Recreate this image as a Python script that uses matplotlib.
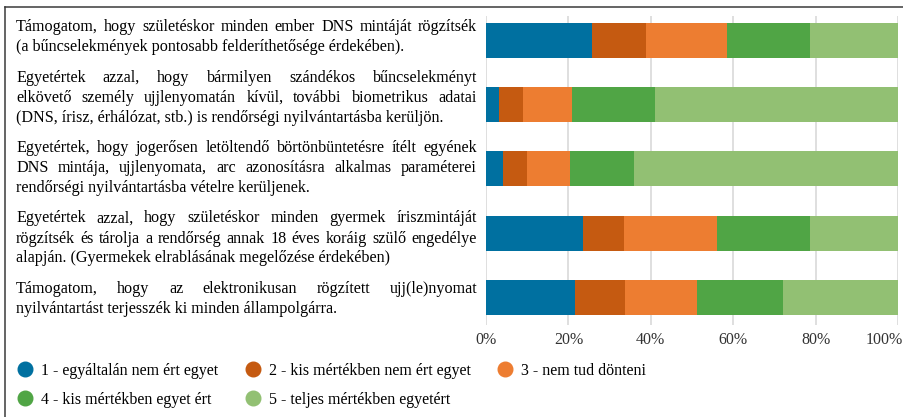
import matplotlib
matplotlib.use('Agg')
import matplotlib.pyplot as plt
from matplotlib.lines import Line2D
from matplotlib.transforms import ScaledTranslation
import numpy as np

# kérdések (sorok ahogy a képen tördelve vannak)
statements = [
    ["Támogatom, hogy születéskor minden ember DNS mintáját rögzítsék",
     "(a bűncselekmények pontosabb felderíthetősége érdekében)."],
    ["Egyetértek azzal, hogy bármilyen szándékos bűncselekményt",
     "elkövető személy ujjlenyomatán kívül, további biometrikus adatai",
     "(DNS, írisz, érhálózat, stb.) is rendőrségi nyilvántartásba kerüljön."],
    ["Egyetértek, hogy jogerősen letöltendő börtönbüntetésre ítélt egyének",
     "DNS mintája, ujjlenyomata, arc azonosításra alkalmas paraméterei",
     "rendőrségi nyilvántartásba vételre kerüljenek."],
    ["Egyetértek azzal, hogy születéskor minden gyermek íriszmintáját",
     "rögzítsék és tárolja a rendőrség annak 18 éves koráig szülő engedélye",
     "alapján. (Gyermekek elrablásának megelőzése érdekében)"],
    ["Támogatom, hogy az elektronikusan rögzített ujj(le)nyomat",
     "nyilvántartást terjesszék ki minden állampolgárra."],
]

answers = ["1 - egyáltalán nem ért egyet", "2 - kis mértékben nem ért egyet",
           "3 - nem tud dönteni", "4 - kis mértékben egyet ért",
           "5 - teljes mértékben egyetért"]

# százalékos megoszlás, kérdésenként (felülről lefelé)
ans1 = [25.7, 3.2, 4.1, 23.5, 21.6]
ans2 = [13.1, 5.8, 5.9, 10.0, 12.1]
ans3 = [19.7, 11.9, 10.4, 22.6, 17.5]
ans4 = [20.1, 20.1, 15.5, 22.5, 20.9]
ans5 = [21.4, 59.0, 64.1, 21.4, 27.9]

xticks = [0, 20, 40, 60, 80, 100]

colors = ['#0070a0', '#c55a11', '#ed7d31', '#50a545', '#92c073']
FONT = 'Liberation Serif'
FS = 11.6
W, H = 904, 417

fig = plt.figure(figsize=(W / 100, H / 100), dpi=100)
fig.patch.set_facecolor('white')

# diagram terület
ax = fig.add_axes([486 / W, 1 - 325 / H, 412 / W, 309 / H])
series = [ans1, ans2, ans3, ans4, ans5]
ypos = np.arange(len(statements))
left = np.zeros(len(statements))
for vals, col in zip(series, colors):
    ax.barh(ypos, vals, left=left, height=0.545, color=col, zorder=2)
    left += np.array(vals)

ax.set_xlim(0, 100)
ax.set_ylim(4.43, -0.38)
ax.set_yticks([])
ax.set_xticks(xticks)
ax.set_xticklabels([f"{t}%" for t in xticks], fontfamily=FONT, fontsize=11.5, color='#333333')
ax.tick_params(axis='x', length=0, pad=5)
# az utolsó felirat befelé tolva, hogy kiférjen
last_lbl = ax.get_xticklabels()[-1]
last_lbl.set_ha('right')
last_lbl.set_transform(last_lbl.get_transform() + ScaledTranslation(0.05, 0, fig.dpi_scale_trans))
ax.grid(axis='x', color='#d9d9d9', linewidth=1.2, zorder=0)
for s in ax.spines.values():
    s.set_visible(False)

# keret
fig.add_artist(Line2D([5 / W, 5 / W], [0, 1 - 7 / H], transform=fig.transFigure,
                      color='#3a3a3a', linewidth=1.1))
fig.add_artist(Line2D([5 / W, 1], [1 - 7 / H, 1 - 7 / H], transform=fig.transFigure,
                      color='#3a3a3a', linewidth=1.1))

# sorkizárt szöveg a bal oldalon
fig.canvas.draw()
renderer = fig.canvas.get_renderer()


def text_width(s, size):
    t = fig.text(0, 0, s, fontsize=size, family=FONT)
    w = t.get_window_extent(renderer).width
    t.remove()
    return w


x0, x1 = 16, 477
min_gap = 3.0
base = 31
line_h = 20
para_gap = 30.5
y = base
for para in statements:
    for i, line in enumerate(para):
        last = i == len(para) - 1
        if last:
            fig.text(x0 / W, 1 - y / H, line, fontsize=FS, family=FONT,
                     va='baseline', ha='left', color='black')
        else:
            words = line.split(' ')
            size = FS
            widths = [text_width(w, size) for w in words]
            room = x1 - x0 - (len(words) - 1) * min_gap
            if sum(widths) > room:
                # ha nem fér ki, kicsit kisebb betű ebben a sorban
                size = FS * room / sum(widths)
                widths = [text_width(w, size) for w in words]
            gap = (x1 - x0 - sum(widths)) / (len(words) - 1)
            x = x0
            for w, wd in zip(words, widths):
                fig.text(x / W, 1 - y / H, w, fontsize=size, family=FONT,
                         va='baseline', ha='left', color='black')
                x += wd + gap
        y += line_h if not last else para_gap

# jelmagyarázat
handles = [Line2D([], [], linestyle='none', marker='o', markersize=10.5,
                  markerfacecolor=c, markeredgecolor=c) for c in colors]
order = [0, 3, 1, 4, 2]
fig.legend([handles[i] for i in order], [answers[i] for i in order],
           ncol=3, loc='upper left', bbox_to_anchor=(19 / W, 1 - 363 / H),
           frameon=False, prop={'family': FONT, 'size': 11.5},
           handlelength=0.8, handletextpad=0.6, columnspacing=1.75,
           labelspacing=0.8, borderpad=0, borderaxespad=0)

plt.savefig('out.png', dpi=100)
